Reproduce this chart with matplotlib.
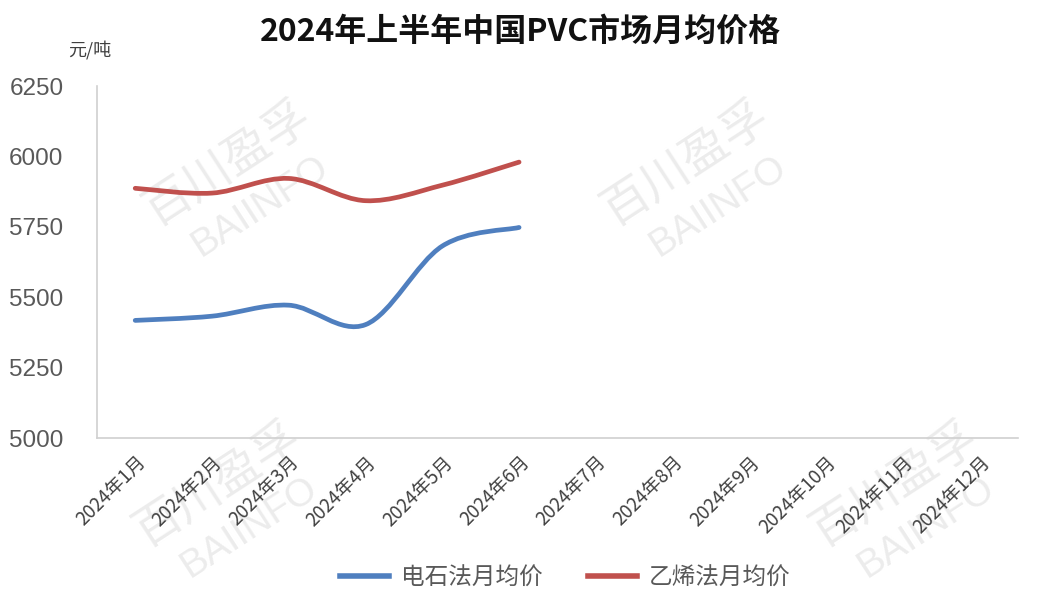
import matplotlib
matplotlib.use("Agg")
import matplotlib.pyplot as plt
from matplotlib.path import Path
from matplotlib.patches import PathPatch
from matplotlib.lines import Line2D

plt.rcParams["font.family"] = ["Noto Sans CJK SC", "DejaVu Sans"]

months = ["2024年%d月" % m for m in range(1, 13)]
carbide = [5418, 5433, 5472, 5403, 5682, 5748]   # 电石法月均价
ethylene = [5887, 5870, 5922, 5843, 5898, 5980]  # 乙烯法月均价
series_names = ["电石法月均价", "乙烯法月均价"]
colors = ["#4f7fbf", "#c0504d"]
yticks = [5000, 5250, 5500, 5750, 6000, 6250]


def smooth_path(ys):
    # Catmull-Rom style bezier segments through the monthly points
    pts = [(i, y) for i, y in enumerate(ys)]
    verts = [pts[0]]
    codes = [Path.MOVETO]
    n = len(pts)
    for i in range(n - 1):
        p0 = pts[max(i - 1, 0)]
        p1 = pts[i]
        p2 = pts[i + 1]
        p3 = pts[min(i + 2, n - 1)]
        c1 = (p1[0] + (p2[0] - p0[0]) / 6, p1[1] + (p2[1] - p0[1]) / 6)
        c2 = (p2[0] - (p3[0] - p1[0]) / 6, p2[1] - (p3[1] - p1[1]) / 6)
        verts += [c1, c2, p2]
        codes += [Path.CURVE4] * 3
    return Path(verts, codes)


fig = plt.figure(figsize=(10.41, 6.06), dpi=100)
ax = fig.add_axes([0.093, 0.277, 0.885, 0.581])
ax.patch.set_alpha(0)

for ys, c in zip([carbide, ethylene], colors):
    ax.add_patch(PathPatch(smooth_path(ys), fill=False, edgecolor=c, lw=3.4,
                           capstyle="round", joinstyle="round", zorder=3))

ax.set_xlim(-0.5, 11.5)
ax.set_ylim(5000, 6250)
ax.set_yticks(yticks)
ax.set_yticklabels([str(v) for v in yticks], family="Liberation Sans",
                   fontsize=17.5, color="#595959")
ax.set_xticks(range(12))
ax.set_xticklabels(months, rotation=45, ha="right", va="top",
                   rotation_mode="anchor", fontsize=13.5, color="#404040")
ax.tick_params(length=0, pad=10)
ax.tick_params(axis="y", pad=24)
for s in ["top", "right"]:
    ax.spines[s].set_visible(False)
for s in ["left", "bottom"]:
    ax.spines[s].set_color("#d0d0d0")
    ax.spines[s].set_linewidth(1.2)

fig.text(0.5, 0.948, "2024年上半年中国PVC市场月均价格", ha="center", va="center",
         fontsize=23, fontweight="bold", color="#111111")
fig.text(0.065, 0.918, "元/吨", ha="left", va="center", fontsize=13,
         color="#404040", style="italic")

handles = [Line2D([0], [0], color=c, lw=4) for c in colors]
fig.legend(handles, series_names, loc="center", bbox_to_anchor=(0.543, 0.046),
           ncol=2, frameon=False, fontsize=17, handlelength=2.1,
           handletextpad=0.5, columnspacing=1.9, labelcolor="#595959")

# faint watermarks behind the chart
for x, y in [(0.22, 0.70), (0.66, 0.70), (0.21, 0.17), (0.86, 0.17)]:
    fig.text(x, y + 0.03, "百川盈孚", rotation=33, fontsize=34, color="#ececec",
             ha="center", va="center", zorder=-1)
    fig.text(x + 0.03, y - 0.04, "BAIINFO", rotation=33, fontsize=28,
             color="#ececec", ha="center", va="center", zorder=-1,
             family="Liberation Sans")

fig.savefig("out.png", dpi=100)
